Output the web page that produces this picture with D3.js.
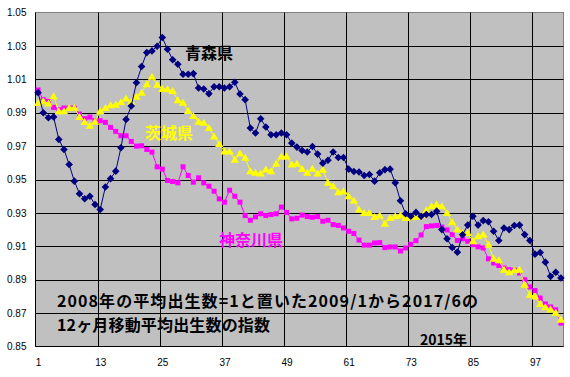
<!DOCTYPE html>
<html>
<head>
<meta charset="utf-8">
<script src="https://cdn.jsdelivr.net/npm/d3@7"></script>
<style>
  body { margin: 0; background: #fff; }
  svg { display: block; }
</style>
</head>
<body>
<svg></svg>
<script>
const width = 570;
const height = 377;

// 12ヶ月移動平均出生数の指数 (2008年平均 = 1), 2009/1 .. 2017/6
const aomori = [
  1.002, 0.990, 0.987, 0.9875, 0.974, 0.968, 0.959, 0.949, 0.9415, 0.9385,
  0.940, 0.935, 0.932, 0.9455, 0.9505, 0.955, 0.969, 0.986, 0.994, 1.008,
  1.0177, 1.026, 1.027, 1.0298, 1.035, 1.028, 1.0217, 1.019, 1.013, 1.013,
  1.0134, 1.0048, 1.0042, 1.0014, 1.0055, 1.0055, 1.0048, 1.0055, 1.0082, 1.0012,
  0.9978, 0.9808, 0.9778, 0.9864, 0.9814, 0.9768, 0.9768, 0.9778, 0.9768, 0.9718,
  0.9694, 0.9674, 0.9665, 0.9698, 0.9652, 0.9598, 0.9615, 0.9665, 0.9632, 0.9632,
  0.9562, 0.9548, 0.9545, 0.9524, 0.953, 0.949, 0.954, 0.9559, 0.9562, 0.948,
  0.9373, 0.9295, 0.928, 0.9303, 0.928, 0.929, 0.929, 0.931, 0.920, 0.9145,
  0.9093, 0.9065, 0.9169, 0.9227, 0.928, 0.9227, 0.9254, 0.9247, 0.919, 0.9135,
  0.921, 0.920, 0.9225, 0.9227, 0.917, 0.9135, 0.9053, 0.9063, 0.9005, 0.892,
  0.8945, 0.891
];

const ibaraki = [
  0.9958, 0.9968, 0.9955, 0.9998, 0.9908, 0.9908, 0.9928, 0.993, 0.9874, 0.9844,
  0.9822, 0.9846, 0.9908, 0.9928, 0.9944, 0.9948, 0.9962, 0.9985, 0.9965, 0.9995,
  1.002, 1.007, 1.0115, 1.0068, 1.0042, 1.004, 1.003, 0.9974, 0.996, 0.991,
  0.988, 0.9846, 0.984, 0.9808, 0.9758, 0.9713, 0.9668, 0.9668, 0.9618, 0.9655,
  0.963, 0.955, 0.954, 0.9536, 0.956, 0.955, 0.9595, 0.9638, 0.9638, 0.959,
  0.9595, 0.9563, 0.954, 0.9565, 0.9536, 0.9559, 0.948, 0.946, 0.9424, 0.943,
  0.940, 0.9375, 0.932, 0.930, 0.930, 0.9275, 0.9284, 0.9235, 0.927, 0.928,
  0.9284, 0.927, 0.9274, 0.9276, 0.9284, 0.9316, 0.934, 0.935, 0.934, 0.930,
  0.9244, 0.920, 0.918, 0.918, 0.913, 0.916, 0.917, 0.911, 0.9025, 0.9017,
  0.896, 0.8945, 0.8957, 0.896, 0.887, 0.881, 0.880, 0.8755, 0.8735, 0.8722,
  0.8702, 0.866
];

const kanagawa = [
  1.0036, 0.9978, 0.9968, 0.9932, 0.9918, 0.9928, 0.9928, 0.9928, 0.9892, 0.9864,
  0.9874, 0.9852, 0.9852, 0.9842, 0.9812, 0.9788, 0.9762, 0.9762, 0.9728, 0.970,
  0.9702, 0.968, 0.9664, 0.9576, 0.9562, 0.9494, 0.9488, 0.948, 0.9576, 0.9524,
  0.9484, 0.951, 0.948, 0.946, 0.943, 0.9384, 0.9364, 0.9436, 0.940, 0.9364,
  0.9284, 0.9256, 0.9276, 0.9295, 0.9284, 0.929, 0.9295, 0.9335, 0.9303, 0.9264,
  0.9268, 0.9287, 0.9278, 0.9274, 0.9278, 0.925, 0.9256, 0.923, 0.9225, 0.921,
  0.919, 0.9177, 0.9137, 0.9107, 0.9107, 0.912, 0.9122, 0.9092, 0.9096, 0.9096,
  0.9072, 0.909, 0.9112, 0.9134, 0.9168, 0.9218, 0.9222, 0.9225, 0.9215, 0.9198,
  0.917, 0.9135, 0.9145, 0.913, 0.911, 0.9097, 0.909, 0.9025, 0.900, 0.8985,
  0.897, 0.896, 0.8957, 0.894, 0.890, 0.8857, 0.8835, 0.879, 0.8755, 0.8737,
  0.872, 0.864
];

const yTicks = [0.85, 0.87, 0.89, 0.91, 0.93, 0.95, 0.97, 0.99, 1.01, 1.03, 1.05];
const xTicks = [1, 13, 25, 37, 49, 61, 73, 85, 97];
const seriesNames = ["青森県", "茨城県", "神奈川県"];
const noteLines = ["2008年の平均出生数=1と置いた2009/1から2017/6の", "12ヶ月移動平均出生数の指数"];
const yearLabel = "2015年";

const plotLeft = 35.5, plotRight = 563.5, plotTop = 12.5, plotBottom = 346.5;

const svg = d3.select("svg")
  .attr("width", width)
  .attr("height", height);

const x = d3.scaleLinear().domain([0.5, aomori.length + 0.5]).range([plotLeft, plotRight]);
const y = d3.scaleLinear().domain([0.85, 1.05]).range([plotBottom, plotTop]);

// plot area
svg.append("rect")
  .attr("x", plotLeft)
  .attr("y", plotTop)
  .attr("width", plotRight - plotLeft)
  .attr("height", plotBottom - plotTop)
  .attr("fill", "#c0c0c0")
  .attr("stroke", "#808080")
  .attr("stroke-width", 1);

// gridlines
svg.append("g")
  .selectAll("line")
  .data(yTicks.slice(1, -1))
  .join("line")
  .attr("x1", plotLeft)
  .attr("x2", plotRight)
  .attr("y1", d => Math.round(y(d)) + 0.5)
  .attr("y2", d => Math.round(y(d)) + 0.5)
  .attr("stroke", "#000")
  .attr("stroke-width", 1);

svg.append("g")
  .selectAll("line")
  .data(xTicks.slice(1))
  .join("line")
  .attr("x1", d => Math.round(x(d - 0.5)) + 0.5)
  .attr("x2", d => Math.round(x(d - 0.5)) + 0.5)
  .attr("y1", plotTop)
  .attr("y2", plotBottom)
  .attr("stroke", "#000")
  .attr("stroke-width", 1);

// axis lines
svg.append("line")
  .attr("x1", plotLeft).attr("x2", plotLeft)
  .attr("y1", plotTop).attr("y2", plotBottom)
  .attr("stroke", "#000");
svg.append("line")
  .attr("x1", plotLeft).attr("x2", plotRight)
  .attr("y1", plotBottom).attr("y2", plotBottom)
  .attr("stroke", "#000");

// tick labels
const yAxis = svg.append("g")
  .attr("transform", `translate(${plotLeft},0)`)
  .call(d3.axisLeft(y).tickValues(yTicks).tickFormat(d3.format(".2f")).tickSize(0).tickPadding(9));
const xAxis = svg.append("g")
  .attr("transform", `translate(0,${plotBottom})`)
  .call(d3.axisBottom(x).tickValues(xTicks).tickSize(0).tickPadding(12));

[yAxis, xAxis].forEach(function(g) {
  g.select(".domain").remove();
  g.selectAll("text")
    .attr("fill", "#000")
    .style("font-family", "'Liberation Sans', Arial, sans-serif")
    .style("font-size", "10px");
});

// series
const line = d3.line()
  .x((d, i) => x(i + 1))
  .y(d => y(d));

const diamond = "M0,-3.8L3.8,0L0,3.8L-3.8,0Z";
const triangle = "M0,-4L4.2,3L-4.2,3Z";

function drawSeries(values, color, marker) {
  const g = svg.append("g");
  g.append("path")
    .datum(values)
    .attr("d", line)
    .attr("fill", "none")
    .attr("stroke", color)
    .attr("stroke-width", 1);
  if (marker === "square") {
    g.selectAll("rect")
      .data(values)
      .join("rect")
      .attr("x", (d, i) => x(i + 1) - 2.5)
      .attr("y", d => y(d) - 2.5)
      .attr("width", 5)
      .attr("height", 5)
      .attr("fill", color);
  } else {
    g.selectAll("path.m")
      .data(values)
      .join("path")
      .attr("class", "m")
      .attr("d", marker)
      .attr("transform", (d, i) => `translate(${x(i + 1)},${y(d)})`)
      .attr("fill", color);
  }
}

drawSeries(kanagawa, "#ff00ff", "square");
drawSeries(ibaraki, "#ffff00", triangle);
drawSeries(aomori, "#000080", diamond);

// labels
const jp = "'Noto Sans CJK JP', sans-serif";

svg.append("text")
  .attr("x", 185).attr("y", 59)
  .attr("fill", "#000")
  .style("font-family", jp).style("font-size", "16px").style("font-weight", "bold")
  .text(seriesNames[0]);

svg.append("text")
  .attr("x", 145).attr("y", 139)
  .attr("fill", "#ffff00")
  .style("font-family", jp).style("font-size", "16px").style("font-weight", "bold")
  .text(seriesNames[1]);

svg.append("text")
  .attr("x", 219).attr("y", 246)
  .attr("fill", "#ff00ff")
  .style("font-family", jp).style("font-size", "16px").style("font-weight", "bold")
  .text(seriesNames[2]);

svg.append("g")
  .selectAll("text")
  .data(noteLines)
  .join("text")
  .attr("x", 57)
  .attr("y", (d, i) => 307 + i * 24)
  .attr("textLength", (d, i) => i === 0 ? 421 : 213)
  .attr("lengthAdjust", "spacing")
  .attr("fill", "#000")
  .style("font-family", jp).style("font-size", "16px").style("font-weight", "bold")
  .text(d => d);

svg.append("text")
  .attr("x", 420).attr("y", 345)
  .attr("fill", "#000")
  .style("font-family", jp).style("font-size", "14px").style("font-weight", "bold")
  .text(yearLabel);
</script>
</body>
</html>
